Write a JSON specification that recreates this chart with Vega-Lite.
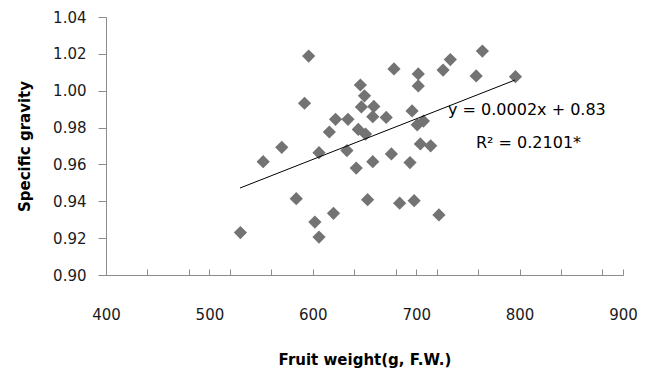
{
  "$schema": "https://vega.github.io/schema/vega-lite/v6.json",
  "autosize": "none",
  "width": 517,
  "height": 258,
  "padding": {"left": 106, "top": 17, "right": 28, "bottom": 95},
  "background": "white",
  "config": {
    "view": {"stroke": null},
    "font": "DejaVu Sans",
    "axis": {"grid": false, "domainColor": "#8c8c8c", "tickColor": "#8c8c8c", "labelColor": "#1a1a1a", "titleColor": "#000000", "labelFont": "DejaVu Sans", "titleFont": "DejaVu Sans"}
  },
  "datasets": {
    "points": [
      {"weight": 530, "gravity": 0.923},
      {"weight": 552, "gravity": 0.9615},
      {"weight": 570, "gravity": 0.9693},
      {"weight": 584, "gravity": 0.9414},
      {"weight": 592, "gravity": 0.9932},
      {"weight": 596, "gravity": 1.0188},
      {"weight": 602, "gravity": 0.9287},
      {"weight": 606, "gravity": 0.9206},
      {"weight": 606, "gravity": 0.9664},
      {"weight": 616, "gravity": 0.9776},
      {"weight": 620, "gravity": 0.9335},
      {"weight": 622, "gravity": 0.9845},
      {"weight": 633, "gravity": 0.9675},
      {"weight": 634, "gravity": 0.9845},
      {"weight": 642, "gravity": 0.958},
      {"weight": 644, "gravity": 0.979},
      {"weight": 646, "gravity": 1.0031},
      {"weight": 647, "gravity": 0.9912},
      {"weight": 650, "gravity": 0.9972},
      {"weight": 651, "gravity": 0.9765},
      {"weight": 653, "gravity": 0.9409},
      {"weight": 658, "gravity": 0.9615},
      {"weight": 658, "gravity": 0.9859},
      {"weight": 659, "gravity": 0.9915},
      {"weight": 671, "gravity": 0.9855},
      {"weight": 676, "gravity": 0.9657},
      {"weight": 678.5, "gravity": 1.0118},
      {"weight": 684, "gravity": 0.939},
      {"weight": 694, "gravity": 0.961},
      {"weight": 696, "gravity": 0.989},
      {"weight": 698, "gravity": 0.9403},
      {"weight": 701, "gravity": 0.9815},
      {"weight": 702, "gravity": 1.0026},
      {"weight": 702, "gravity": 1.0091},
      {"weight": 704, "gravity": 0.9711},
      {"weight": 707, "gravity": 0.9835},
      {"weight": 714, "gravity": 0.9701},
      {"weight": 722, "gravity": 0.9326},
      {"weight": 726, "gravity": 1.0112},
      {"weight": 733, "gravity": 1.0169},
      {"weight": 758, "gravity": 1.008},
      {"weight": 764, "gravity": 1.0215},
      {"weight": 796, "gravity": 1.0076}
    ],
    "trend": [
      {"weight": 529.6, "gravity": 0.9472},
      {"weight": 795.6, "gravity": 1.0058}
    ],
    "labels": [
      {"weight": 730.8, "gravity": 0.9895, "text": "y = 0.0002x + 0.83"},
      {"weight": 757.8, "gravity": 0.9716, "text": "R² = 0.2101*"}
    ]
  },
  "encoding": {
    "x": {
      "field": "weight", "type": "quantitative",
      "scale": {"domain": [400, 900], "nice": false, "zero": false},
      "axis": {
        "title": "Fruit weight(g, F.W.)",
        "values": [400, 440, 480, 500, 520, 560, 600, 640, 680, 700, 720, 760, 800, 840, 880, 900],
        "labelExpr": "datum.value % 100 == 0 ? datum.label : ''",
        "labelFontSize": 15,
        "labelPadding": 38,
        "labelFlush": false,
        "labelOverlap": false,
        "labelBound": false,
        "tickSize": -6,
        "titleFontSize": 15,
        "titleFontWeight": "bold",
        "titlePadding": 30
      }
    },
    "y": {
      "field": "gravity", "type": "quantitative",
      "scale": {"domain": [0.9, 1.04], "nice": false, "zero": false},
      "axis": {
        "title": "Specific gravity",
        "values": [0.9, 0.92, 0.94, 0.96, 0.98, 1.0, 1.02, 1.04],
        "format": ".2f",
        "labelFontSize": 15,
        "labelPadding": 12,
        "labelOverlap": false,
        "labelFlush": false,
        "labelBound": false,
        "tickSize": 8,
        "titleFontSize": 15,
        "titleFontWeight": "bold",
        "titlePadding": 20
      }
    }
  },
  "layer": [
    {
      "data": {"name": "points"},
      "mark": {"type": "point", "shape": "diamond", "filled": true, "size": 175, "color": "#737373", "opacity": 1}
    },
    {
      "data": {"name": "trend"},
      "mark": {"type": "line", "color": "#000000", "strokeWidth": 1}
    },
    {
      "data": {"name": "labels"},
      "mark": {"type": "text", "align": "left", "baseline": "middle", "fontSize": 16, "color": "#000000", "font": "DejaVu Sans"},
      "encoding": {
        "text": {"field": "text"}
      }
    }
  ]
}
